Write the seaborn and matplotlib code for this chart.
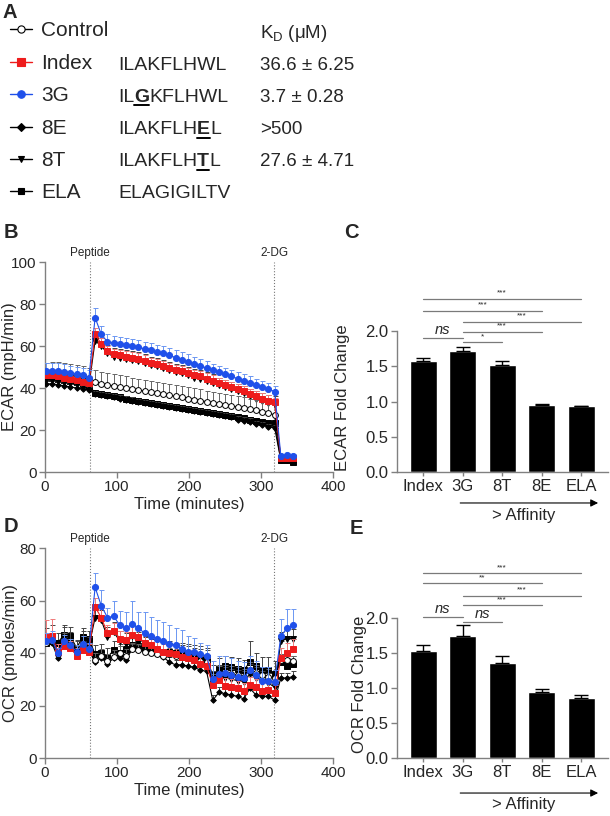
import numpy as np
import seaborn as sns
import matplotlib.pyplot as plt
from matplotlib.transforms import blended_transform_factory

sns.set_style("ticks")
plt.rcParams["font.family"] = ["Liberation Sans", "DejaVu Sans"]
plt.rcParams["mathtext.fontset"] = "custom"
plt.rcParams["mathtext.rm"] = "Liberation Sans"
plt.rcParams["mathtext.it"] = "Liberation Sans:italic"
plt.rcParams["mathtext.bf"] = "Liberation Sans:bold"

# ---------------- data ----------------
peptides = ["Control", "Index", "3G", "8E", "8T", "ELA"]
sequences = ["", "ILAKFLHWL", "ILGKFLHWL", "ILAKFLHEL", "ILAKFLHTL", "ELAGIGILTV"]
changed_residue = [None, None, 2, 7, 7, None]
kd_text = ["", "36.6 ± 6.25", "3.7 ± 0.28", ">500", "27.6 ± 4.71", ""]

time_min = [0.8, 9.4, 18.0, 26.6, 35.2, 43.8, 52.4, 61.0,
            69.6, 78.2, 86.8, 95.4, 104.0, 112.6, 121.2, 129.8, 138.4, 147.0,
            155.6, 164.2, 172.8, 181.4, 190.0, 198.6, 207.2, 215.8, 224.4, 233.0,
            241.6, 250.2, 258.8, 267.4, 276.0, 284.6, 293.2, 301.8, 310.4, 319.0,
            327.6, 336.2, 344.8]
peptide_time = 62.3
dg_time = 318.5

ecar = {
    "Control": [47, 47.5, 47.5, 47, 46.5, 46, 45.5, 44.5,
                43, 42, 41.5, 41, 40.5, 40, 39.5, 39, 38.5, 38,
                37.5, 37, 36.5, 36, 35.5, 35, 34.5, 34, 33.5, 33,
                32.5, 32, 31.5, 31, 30.5, 30, 29.5, 28.5, 28, 27.2,
                7, 7, 7],
    "Index": [46, 46, 45.5, 45, 44.5, 44, 43, 42.5,
              65.5, 61, 57.5, 56, 55.5, 55, 54.5, 54, 53, 52,
              51.5, 50.5, 49.5, 48.5, 48, 47, 46, 45.5, 44.5, 43.5,
              42.5, 41.5, 40.5, 39.5, 38.5, 37, 36, 35, 34, 33.3,
              6.5, 6.8, 6.5],
    "3G": [48, 48, 48, 47.5, 47, 46.5, 46, 45,
           73.5, 65.5, 62, 61.5, 61, 60.5, 60, 59.5, 58.5, 58,
           57, 56.5, 55.5, 54.5, 53.5, 52.5, 51.5, 50.5, 49.5, 48.5,
           47.5, 46.5, 45.5, 44.5, 43.5, 42.5, 41.5, 40.5, 39.5, 38.3,
           7.5, 8, 7.8],
    "8E": [42, 42, 41.5, 41, 40.5, 40, 39.5, 39,
           37, 36.5, 36, 35.5, 35, 34.5, 34, 33.5, 33, 32.5,
           32, 31.5, 31, 30.5, 30, 29.5, 29, 28.5, 28, 27.5,
           27, 26.5, 26, 25, 24.5, 24, 23, 22.5, 21.5, 21,
           5.5, 5.5, 5.5],
    "8T": [44, 44, 43.5, 43, 42.5, 42, 41.5, 41,
           62.5, 60, 56.5, 55, 54.5, 54, 53.5, 53, 52, 51,
           50.5, 49.5, 48.5, 47.5, 47, 46, 45, 44.5, 43.5, 42.5,
           41.5, 40.5, 39.5, 38.5, 37.5, 36, 35, 34, 33, 32.5,
           6, 6, 6],
    "ELA": [45, 45, 44.5, 44, 43.5, 43, 42, 41,
            37.8, 37, 36.5, 36, 35.5, 35, 34.5, 34, 33.5, 33,
            32.5, 32, 31.5, 31, 30.5, 30, 29.5, 29, 28.5, 28,
            27.5, 27, 26.5, 26, 25.5, 25, 24.5, 24, 23.5, 23.5,
            5.5, 5.5, 5],
}
ecar_err = {
    "Control": [5, 5, 5, 5, 5, 5, 5, 5,
                5.5, 5.5, 5.5, 5.5, 5.5, 5.5, 5.5, 5.5, 5.5, 5.5,
                5.5, 5.5, 5.5, 5.5, 5.5, 5.5, 5.5, 5.5, 5, 5,
                5, 5, 5, 5, 5, 5, 5, 5, 5, 5,
                1, 1, 1],
    "Index": [3, 3, 3, 3, 3, 3, 3, 3,
              3, 3, 2.5, 2.5, 2.5, 2.5, 2.5, 2.5, 2.5, 2.5,
              2.5, 2.5, 2.5, 2.5, 2.5, 2.5, 2.5, 2.5, 2.5, 2.5,
              2.5, 2.5, 2.5, 2.5, 2.5, 2.5, 2.5, 2.5, 2.5, 2,
              1, 1, 1],
    "3G": [4, 4, 4, 4, 3.5, 3.5, 3.5, 3.5,
           4.5, 4, 3.5, 3.5, 3.5, 3.5, 3.5, 3.5, 3.5, 3.5,
           3.5, 3.5, 3.5, 3.5, 3.5, 3.5, 3.5, 3.5, 3.5, 3,
           3, 3, 3, 3, 3, 3, 3, 3, 3, 2.5,
           1, 1, 1],
    "8E": [1.5, 1.5, 1.5, 1.5, 1.5, 1.5, 1.5, 1.5,
           1.5, 1.5, 1.5, 1.5, 1.5, 1.5, 1.5, 1.5, 1.5, 1.5,
           1.5, 1.5, 1.5, 1.5, 1.5, 1.5, 1.5, 1.5, 1.5, 1.5,
           1.5, 1.5, 1.5, 1.5, 1.5, 1.5, 1.5, 1.5, 1.5, 1.5,
           0.5, 0.5, 0.5],
    "8T": [3, 3, 3, 3, 3, 3, 3, 3,
           4, 4, 4, 4, 4, 4, 4, 4, 4, 4,
           4, 4, 4, 4, 4, 4, 4, 4, 4, 4,
           3.5, 3.5, 3.5, 3.5, 3.5, 3.5, 3.5, 3.5, 3.5, 3.5,
           1, 1, 1],
    "ELA": [1, 1, 1, 1, 1, 1, 1, 1,
            1, 1, 1, 1, 1, 1, 1, 1, 1, 1,
            1, 1, 1, 1, 1, 1, 1, 1, 1, 1,
            1, 1, 1, 1, 1, 1, 1, 1, 1, 1,
            0.5, 0.5, 0.5],
}

ocr = {
    "Control": [44, 44.5, 39.5, 45, 43, 40.5, 44, 42,
                37.5, 39, 37, 38.5, 40, 39, 41.5, 41, 40.5, 40,
                39.5, 39, 39.5, 39, 38.5, 38, 37.5, 37, 36.5, 29.5,
                32, 32.5, 32, 31.5, 31, 33.5, 32.5, 31.5, 31, 30.5,
                37.5, 37.5, 37],
    "Index": [46, 46.5, 40.5, 42.5, 42, 39, 41, 40.5,
              57.5, 53.5, 47.5, 48.5, 45.5, 45, 47, 46, 44, 43,
              41.5, 40.5, 40, 39.5, 38.5, 38, 37.5, 36, 35, 27.8,
              29.7, 27.5, 27, 26.5, 25.5, 27.8, 27, 25.5, 26, 24.7,
              38, 40, 41.5],
    "3G": [44.5, 45, 40, 44.5, 43, 40.5, 43.5, 41.5,
           65, 58, 53.5, 54, 50.5, 49.5, 51, 49.5, 47.5, 46.5,
           45.5, 44.5, 43.5, 43, 41.5, 40.5, 40.5, 39.5, 39, 30,
           32, 32.5, 31.5, 31, 30.5, 33.5, 31.5, 29.5, 29.5, 29,
           46.5, 49.5, 50.5],
    "8E": [44, 44, 38, 43.5, 42, 39.5, 42.5, 41,
           36.5, 38, 36, 38, 38, 37.5, 41.5, 41, 41, 40.5,
           39.5, 38.5, 36.5, 35.5, 35.5, 35, 34.5, 33.5, 33, 22,
           25, 24.5, 24, 23.5, 22.5, 26.5, 24, 23.5, 23.5, 22,
           30.5, 30.5, 31],
    "8T": [45, 45.5, 40.5, 46, 44, 41, 44.5, 42.5,
           53.5, 52.5, 46, 48, 44.5, 43.5, 46.5, 44, 42.5, 41.5,
           40.5, 40.5, 40, 39.5, 39, 38.5, 38, 37.5, 37, 29,
           31.5, 30.5, 30, 29.5, 29, 32, 30.5, 29, 28.5, 27,
           44.5, 45.5, 45.5],
    "ELA": [44, 44.5, 44, 47, 46.5, 42, 46, 45.5,
            39.5, 40, 38.5, 41, 40, 41.5, 43, 42.5, 42, 41.5,
            41, 40.5, 40.5, 40, 40, 39.5, 39, 38.5, 38, 31.5,
            34, 35, 34.5, 34, 33.5, 36.5, 35, 33.5, 33.5, 32,
            36.5, 35, 36],
}
ocr_err = {
    "Control": [2.5, 2.5, 2, 2.5, 2.5, 2, 2.5, 2,
                2.5, 2.5, 2.5, 2.5, 2.5, 2.5, 2.5, 2.5, 2.5, 2.5,
                2.5, 2.5, 2.5, 2.5, 2.5, 2.5, 2.5, 2.5, 2.5, 2.5,
                3, 3, 3, 3, 3, 3, 3, 3, 3, 3,
                2, 2, 2],
    "Index": [6.5, 6.5, 3, 3, 2.5, 3, 3, 3,
              3.5, 3.5, 3, 3, 3, 3, 3.5, 3, 3, 3,
              3, 3, 3, 3, 3, 3, 3, 3, 3, 3,
              3, 3, 3, 3, 3, 3, 3, 3, 3, 3,
              4, 4, 4],
    "3G": [3, 3.5, 2, 2.5, 2.5, 2.5, 3, 2.5,
           5.5, 6, 3.5, 6, 5.5, 6, 9, 6.2, 8.2, 7.3,
           7, 7.4, 7.1, 6.7, 7.2, 6, 5.1, 4.5, 4, 7,
           7, 6.5, 6.5, 6, 6, 5.5, 5.5, 5, 5, 4.5,
           6.5, 7.3, 6.3],
    "8E": [2, 2, 2, 2, 2, 2, 2, 2,
           2, 2, 2, 2, 2, 2, 2, 2, 2, 2,
           2, 2, 2, 2, 2, 2, 2, 2, 2, 2,
           2, 2, 2, 2, 2, 2, 2, 2, 2, 2,
           2, 2, 2],
    "8T": [4.5, 5, 3, 4, 4, 3.5, 4, 3.5,
           4, 4, 4, 4, 4, 4, 4, 4, 4, 4,
           4, 4, 4, 4, 4, 4, 4, 4, 4, 4,
           4, 4, 4, 4, 4, 4, 4, 4, 4, 4,
           3.5, 3.5, 3.5],
    "ELA": [3, 3, 3.5, 3.5, 3.5, 3, 3.5, 3,
            3.5, 3.5, 3.5, 3.5, 3.5, 3.5, 4, 4, 4, 4,
            4, 4, 4, 4, 4, 4, 4, 4, 4, 4,
            4, 4, 4, 4, 4, 8, 5, 5, 5, 5,
            3, 3, 3],
}

bar_names = ["Index", "3G", "8T", "8E", "ELA"]
ecar_fold = [1.57, 1.71, 1.52, 0.95, 0.93]
ecar_fold_err = [0.04, 0.06, 0.05, 0.02, 0.01]
ocr_fold = [1.53, 1.74, 1.36, 0.94, 0.86]
ocr_fold_err = [0.08, 0.16, 0.10, 0.05, 0.04]
ecar_sig = [("Index", "ELA", "***", 2.46), ("Index", "8E", "***", 2.29),
            ("3G", "ELA", "***", 2.13), ("3G", "8E", "***", 1.99),
            ("Index", "3G", "ns", 1.90), ("3G", "8T", "*", 1.84)]
ocr_sig = [("Index", "ELA", "***", 2.64), ("Index", "8E", "**", 2.50),
           ("3G", "ELA", "***", 2.32), ("3G", "8E", "***", 2.18),
           ("Index", "3G", "ns", 2.01), ("3G", "8T", "ns", 1.94)]

# ---------------- styles ----------------
styles = {
    "Control": dict(color="black", ecolor="#666666", marker="o", mfc="white", ms=4.2, z=5),
    "Index": dict(color="#ee1c1c", ecolor="#f07a7a", marker="s", mfc="#ee1c1c", ms=4.2, z=6),
    "3G": dict(color="#1f50ea", ecolor="#6b96f2", marker="o", mfc="#1f50ea", ms=4.4, z=7),
    "8E": dict(color="black", ecolor="#444444", marker="D", mfc="black", ms=2.8, z=3),
    "8T": dict(color="black", ecolor="#444444", marker="v", mfc="black", ms=4.0, z=4),
    "ELA": dict(color="black", ecolor="#444444", marker="s", mfc="black", ms=4.0, z=2),
}
axis_grey = "#808080"

W, H = 610, 816
fig = plt.figure(figsize=(W / 100, H / 100), dpi=100)


def px_rect(left, top, right, bottom):
    return [left / W, 1 - bottom / H, (right - left) / W, (bottom - top) / H]


def style_axes(ax, size):
    sns.despine(ax=ax)
    for s in ["left", "bottom"]:
        ax.spines[s].set_color(axis_grey)
        ax.spines[s].set_linewidth(1)
    ax.tick_params(direction="out", length=4, width=1, color=axis_grey,
                   labelsize=size, pad=2)


def trace_panel(ax, series, errs, ytop, yticks, ylabel, label_x):
    for name in ["ELA", "8E", "8T", "Control", "Index", "3G"]:
        st = styles[name]
        y = np.array(series[name], dtype=float)
        e = np.array(errs[name], dtype=float)
        ax.errorbar(time_min, y, yerr=[np.zeros_like(e), e], fmt="none",
                    ecolor=st["ecolor"], elinewidth=0.7, capsize=1.8,
                    capthick=0.7, zorder=st["z"])
        sns.lineplot(x=time_min, y=y, ax=ax, color=st["color"], lw=0.8,
                     marker=st["marker"], markersize=st["ms"],
                     markerfacecolor=st["mfc"], markeredgecolor=st["color"],
                     markeredgewidth=0.7, zorder=st["z"] + 0.5, errorbar=None)
    for t, lab in [(peptide_time, "Peptide"), (dg_time, "2-DG")]:
        ax.plot([t, t], [0, ytop], ls=":", color="#777777", lw=0.8, zorder=1)
        ax.text(t, ytop * 1.012, lab, ha="center", va="bottom", fontsize=8.5)
    ax.set_xlim(0, 400)
    ax.set_ylim(0, ytop)
    ax.set_xticks([0, 100, 200, 300, 400])
    ax.set_yticks(yticks)
    ax.set_xlabel("Time (minutes)", fontsize=12, labelpad=2)
    ax.set_ylabel(ylabel, fontsize=12)
    ax.yaxis.set_label_coords(label_x, 0.5)
    style_axes(ax, 11)


def bar_panel(ax, vals, errs, sig, ylabel, ytop, label_x, arrow_y, text_y):
    sns.barplot(x=bar_names, y=vals, color="black", saturation=1, width=0.68, ax=ax)
    ax.errorbar(np.arange(len(vals)), vals, yerr=[np.zeros(len(errs)), errs],
                fmt="none", ecolor="black", elinewidth=1, capsize=4.7, capthick=1,
                zorder=3)
    for a, b, lab, h in sig:
        i, j = bar_names.index(a), bar_names.index(b)
        ax.plot([i, j], [h, h], color="#7a7a7a", lw=0.9, clip_on=False)
        if lab == "ns":
            ax.text((i + j) / 2, h + 0.015, "ns", style="italic", fontsize=10.5,
                    ha="center", va="bottom")
        else:
            ax.text((i + j) / 2, h + 0.03, lab, fontsize=6, ha="center", va="bottom")
    ax.set_xlim(-0.66, 4.68)
    ax.set_ylim(0, ytop)
    ax.set_yticks([0, 0.5, 1.0, 1.5, 2.0])
    ax.yaxis.set_major_formatter("{x:.1f}")
    ax.set_xlabel("")
    ax.set_ylabel(ylabel, fontsize=12)
    ax.yaxis.set_label_coords(label_x, 1.05 / ytop)
    style_axes(ax, 12)
    ax.tick_params(axis="x", length=3)
    ax.spines["left"].set_bounds(0, 2)
    trans = blended_transform_factory(ax.transData, ax.transAxes)
    ax.annotate("", xy=(4.43, arrow_y), xytext=(0.94, arrow_y), xycoords=trans,
                textcoords=trans, annotation_clip=False,
                arrowprops=dict(arrowstyle="-|>", color="black", lw=0.8,
                                mutation_scale=11, shrinkA=0, shrinkB=0))
    ax.text(2.55, text_y, "> Affinity", transform=trans, ha="center",
            va="center", fontsize=12)


# ---------------- panel A ----------------
ax_a = fig.add_axes([0, 1 - 205 / H, 1, 205 / H])
ax_a.set_xlim(0, W)
ax_a.set_ylim(205, 0)
ax_a.axis("off")
renderer = fig.canvas.get_renderer()
row_y = [29, 62, 94, 127, 159, 191]

for name, seq, pos, kd, y in zip(peptides, sequences, changed_residue, kd_text, row_y):
    st = styles[name]
    ax_a.plot([10, 32], [y, y], color=st["color"], lw=1)
    ax_a.plot([21], [y], marker=st["marker"], ms=st["ms"] + 1, mfc=st["mfc"],
              mec=st["color"], mew=0.8, ls="none")
    ax_a.text(41, y + 7, name, fontsize=15, va="baseline", ha="left")
    if seq:
        if pos is None:
            parts = [(seq, "normal")]
        else:
            parts = [(seq[:pos], "normal"), (seq[pos], "bold"), (seq[pos + 1:], "normal")]
        x = 118
        for s, wgt in parts:
            if not s:
                continue
            t = ax_a.text(x, y + 7.5, s, fontsize=14, fontweight=wgt,
                          va="baseline", ha="left")
            bb = t.get_window_extent(renderer)
            x0 = ax_a.transData.inverted().transform((bb.x0, bb.y0))[0]
            x1 = ax_a.transData.inverted().transform((bb.x1, bb.y0))[0]
            if wgt == "bold":
                ax_a.plot([x0, x1], [y + 11, y + 11], color="black", lw=1.4)
            x = x1
    if kd:
        ax_a.text(260, y + 7.5, kd, fontsize=13.5, va="baseline", ha="left")
ax_a.text(260, row_y[0] + 9, r"K$_\mathregular{D}$ (μM)", fontsize=13.5,
          va="baseline", ha="left")

# ---------------- panels B-E ----------------
ax_b = fig.add_axes(px_rect(45, 262, 333, 472))
trace_panel(ax_b, ecar, ecar_err, 100, [0, 20, 40, 60, 80, 100], "ECAR (mpH/min)", -0.097)

ax_d = fig.add_axes(px_rect(45, 548, 333, 758))
trace_panel(ax_d, ocr, ocr_err, 80, [0, 20, 40, 60, 80], "OCR (pmoles/min)", -0.094)

ax_c = fig.add_axes(px_rect(397, 288.7, 608, 472))
bar_panel(ax_c, ecar_fold, ecar_fold_err, ecar_sig, "ECAR Fold Change", 2.6, -0.223,
          -0.169, -0.24)

ax_e = fig.add_axes(px_rect(397, 565.5, 608, 758))
bar_panel(ax_e, ocr_fold, ocr_fold_err, ocr_sig, "OCR Fold Change", 2.75, -0.142,
          -0.182, -0.244)

for lab, x, y in [("A", 10, 13), ("B", 11, 232), ("C", 351, 232), ("D", 11, 527), ("E", 356, 528)]:
    fig.text(x / W, 1 - y / H, lab, fontsize=14.5, fontweight="bold",
             ha="center", va="center")

fig.savefig("out.png", dpi=100)
